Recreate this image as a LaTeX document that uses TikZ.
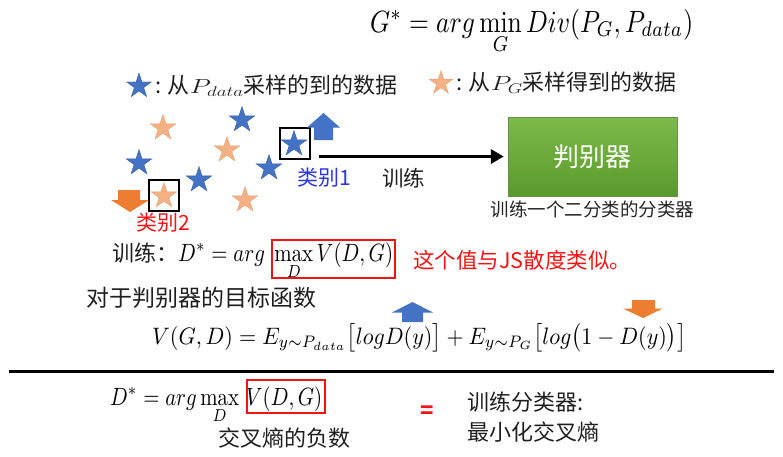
\documentclass[tikz,border=0pt]{standalone}
\usepackage{fontspec}
\usepackage{graphicx}
\newfontfamily\cjk{Noto Sans CJK SC}
\usetikzlibrary{shapes.geometric,arrows.meta}
\definecolor{sblue}{HTML}{4472C4}
\definecolor{sorange}{HTML}{F4B183}
\definecolor{aorange}{HTML}{ED7D31}
\definecolor{gtop}{HTML}{7CBA4A}
\definecolor{gbot}{HTML}{5A9A2C}
\definecolor{lblue}{HTML}{2B35E0}
\definecolor{lred}{HTML}{F01414}
\tikzset{
  basestar/.style={star, star points=5, star point ratio=2.618, minimum size=27pt, inner sep=0pt, line width=0.4pt},
  bstar/.style={basestar, fill=sblue, draw=sblue!85!black},
  ostar/.style={basestar, fill=sorange, draw=sorange!92!black},
  cjkt/.style={font=\cjk\fontsize{22}{26}\selectfont, inner sep=0pt, text=black!88},
  smallt/.style={font=\cjk\fontsize{18.5}{22}\selectfont, inner sep=0pt, text=black!85},
  mathn/.style={inner sep=0pt, anchor=base west},
  selbox/.style={draw=black, line width=2pt, minimum width=30pt, minimum height=31pt, inner sep=0pt},
  redbox/.style={draw=lred, line width=1.8pt},
  barrow/.style={fill=sblue},
  oarrow/.style={fill=aorange}
}
\begin{document}
\begin{tikzpicture}[x=1pt,y=-1pt]
\useasboundingbox (0,0) rectangle (783,456);
% top formula
\node[mathn] (gform) at (370,32) {\resizebox{323pt}{!}{\scalebox{1}[1.2]{$G^*=arg\displaystyle\min_{G} Div(P_G,P_{data})$}}};
% legend
\node[bstar, minimum size=26pt] (lbs) at (139,86) {};
\node[cjkt, anchor=west] (lbt) at (155,86) {: 从\resizebox*{54pt}{17pt}{$P_{data}$}采样的到的数据};
\node[ostar, minimum size=25pt] (los) at (441,83) {};
\node[cjkt, anchor=west] (lot) at (456,83) {: 从\resizebox*{32pt}{17pt}{$P_G$}采样得到的数据};
% stars
\node[ostar] (o1) at (163,128) {};
\node[bstar] (b1) at (242,120) {};
\node[ostar] (o2) at (227,150) {};
\node[bstar] (b2) at (139,163) {};
\node[bstar] (b3) at (294,144) {};
\node[bstar] (b4) at (199,180) {};
\node[bstar] (b5) at (269,168) {};
\node[ostar] (o3) at (164,196) {};
\node[ostar] (o4) at (245,200) {};
% selection boxes
\node[selbox] (box1) at (295,143.5) {};
\node[selbox] (box2) at (164,195) {};
% block arrows (top)
\fill[barrow] (314,140) -- (314,127.5) -- (307,127.5) -- (323.5,113) -- (340,127.5) -- (333,127.5) -- (333,140) -- cycle;
\fill[oarrow] (118,190) -- (140,190) -- (140,200) -- (149,200) -- (130,212) -- (111,200) -- (118,200) -- cycle;
% labels
\node[cjkt, text=lblue, anchor=west, font=\cjk\fontsize{21}{24}\selectfont] (c1) at (297,178) {类别1};
\node[cjkt, text=lred, anchor=west, font=\cjk\fontsize{21}{24}\selectfont] (c2) at (136,223) {类别2};
% discriminator
\node[rectangle, minimum width=169pt, minimum height=79pt, top color=gtop, bottom color=gbot, draw=gbot!60!gray, line width=0.4pt] (disc) at (592.5,156.5) {};
\node[font=\cjk\fontsize{26}{30}\selectfont, text=white, inner sep=0pt] (disct) at (disc.center) {判别器};
\node[smallt] (disclab) at (592.5,209) {训练一个二分类的分类器};
\draw[line width=3.5pt, -{Triangle[length=13pt,width=14pt]}, shorten <=8pt, shorten >=4pt] (box1.east |- disc.west) -- (disc.west);
\node[cjkt, font=\cjk\fontsize{21.5}{24}\selectfont] (train) at (403.5,178) {训练};
% middle
\node[cjkt, anchor=west] (mt) at (112,253) {训练：};
\node[mathn] (mform) at (178,261) {\resizebox{215pt}{!}{\scalebox{1}[1.2]{$D^*=arg\;\displaystyle\max_{D} V(D,G)$}}};
\draw[redbox] (272,240) rectangle (395,278);
\node[cjkt, text=lred, anchor=west, font=\cjk\fontsize{21.5}{24}\selectfont] (js) at (413,260) {这个值与JS散度类似。};
\node[cjkt, anchor=west, font=\cjk\fontsize{23}{26}\selectfont] (obj) at (86,298) {对于判别器的目标函数};
\fill[barrow] (402,322) -- (402,312.5) -- (392,312.5) -- (412.5,302) -- (433,312.5) -- (423,312.5) -- (423,322) -- cycle;
\fill[oarrow] (632,300) -- (655,300) -- (655,308.5) -- (663,308.5) -- (643,318) -- (623,308.5) -- (632,308.5) -- cycle;
\node[mathn] (vform) at (152,344) {\resizebox{534pt}{!}{\scalebox{1}[1.08]{$V(G,D)=E_{y\sim P_{data}}\bigl[logD(y)\bigr]+E_{y\sim P_G}\bigl[log\bigl(1-D(y)\bigr)\bigr]$}}};
% separator
\coordinate (sl) at (9,371);
\coordinate (sr) at (774,371);
\draw[line width=3pt] (sl) -- (sr);
% bottom
\node[mathn] (bform) at (110,405) {\resizebox{212pt}{!}{\scalebox{1}[1.2]{$D^*=arg\displaystyle\max_{D}\,V(D,G)$}}};
\draw[redbox] (247,380) rectangle (325,413);
\node[cjkt] (ce) at (284.5,438) {交叉熵的负数};
\node[cjkt, text=lred, font=\cjk\bfseries\fontsize{22}{26}\selectfont] (eq) at (427,412) {=};
\node[cjkt, anchor=west] (r1) at (467,402) {训练分类器:};
\node[cjkt, anchor=west] (r2) at (467,432) {最小化交叉熵};
\end{tikzpicture}
\end{document}
